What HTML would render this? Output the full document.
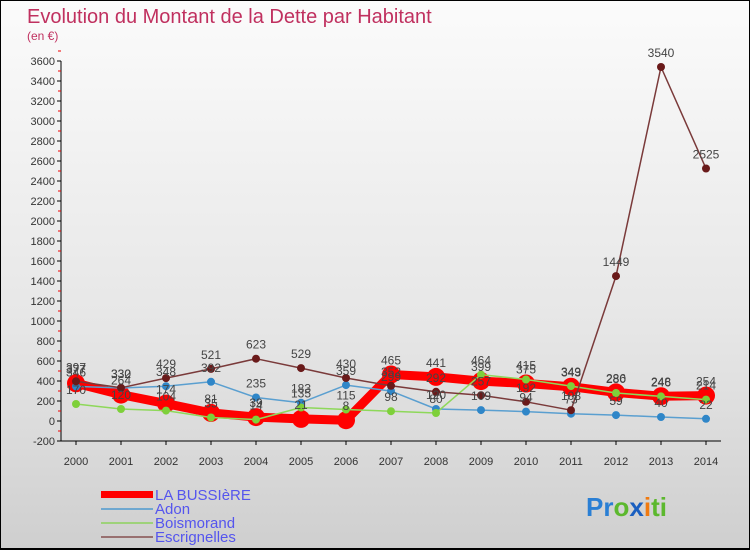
<!DOCTYPE html>
<html><head><meta charset="utf-8"><style>
body{margin:0}
#wrap{width:748px;height:547px;border:1px solid #000;border-bottom-width:2px;background:linear-gradient(#fbfbfb,#e6e6e6 60%,#cfcfcf);position:relative;overflow:hidden;font-family:"Liberation Sans",sans-serif}
</style></head><body>
<div id="wrap">
<svg id="svg" width="748" height="547" xmlns="http://www.w3.org/2000/svg">
<text x="26" y="22" font-size="20" fill="#c0305f">Evolution du Montant de la Dette par Habitant</text>
<text x="26" y="39" font-size="12" fill="#c0305f">(en €)</text>
<g id="axes"></g><g id="series"></g><g id="labels"></g>
<g>
<rect x="100" y="490" width="52" height="7" fill="#f00"/>
<line x1="100" y1="508" x2="152" y2="508" stroke="#6fa8d0" stroke-width="2"/>
<line x1="100" y1="522" x2="152" y2="522" stroke="#9ed27a" stroke-width="2"/>
<line x1="100" y1="536" x2="152" y2="536" stroke="#987070" stroke-width="2"/>
<text x="154" y="499" font-size="15" fill="#5555ee">LA BUSSIèRE</text>
<text x="154" y="513" font-size="15" fill="#5555ee">Adon</text>
<text x="154" y="527" font-size="15" fill="#5555ee">Boismorand</text>
<text x="154" y="541" font-size="15" fill="#5555ee">Escrignelles</text>
</g>
<g font-size="26" font-weight="bold">
<text x="585" y="515"><tspan fill="#2a7fd4">Pr</tspan><tspan fill="#5cb82e">o</tspan><tspan fill="#1a5fc0">x</tspan><tspan fill="#f07a10">i</tspan><tspan fill="#5cb82e">ti</tspan></text>
</g>
</svg>
</div>
<script>
const years=[2000,2001,2002,2003,2004,2005,2006,2007,2008,2009,2010,2011,2012,2013,2014];
const yTicks=[-200,0,200,400,600,800,1000,1200,1400,1600,1800,2000,2200,2400,2600,2800,3000,3200,3400,3600];
const bussiere=[377,264,174,81,39,21,8,465,441,399,375,343,286,248,254];
const adon=[346,330,348,392,235,183,359,299,120,109,94,73,59,40,22];
const boismorand=[170,120,104,35,14,135,115,98,80,464,415,349,280,246,214];
const escrignelles=[397,332,429,521,623,529,430,352,292,257,192,108,1449,3540,2525];
const NS="http://www.w3.org/2000/svg";
const X=i=>75+i*45;
const Y=v=>420-v*0.1;
function mk(t,a,p){const e=document.createElementNS(NS,t);for(const k in a)e.setAttribute(k,a[k]);p.appendChild(e);return e;}
const axes=document.getElementById('axes'),ser=document.getElementById('series'),lab=document.getElementById('labels');
let ax=mk('line',{x1:60,y1:60,x2:60,y2:440,stroke:'#000'},axes);

let bx=mk('line',{x1:60,y1:440,x2:720,y2:440,stroke:'#000'},axes);

yTicks.forEach(v=>{
 mk('line',{x1:56,y1:Y(v),x2:60,y2:Y(v),stroke:'#000'},axes);
 mk('line',{x1:57,y1:Y(v+100),x2:60,y2:Y(v+100),stroke:'#e00'},axes);
 const t=mk('text',{x:54,y:Y(v)+4,'font-size':11,fill:'#333','text-anchor':'end'},axes);
 t.textContent=v;
 
 
});
years.forEach((yr,i)=>{
 mk('line',{x1:X(i),y1:440,x2:X(i),y2:444,stroke:'#000'},axes);
 const t=mk('text',{x:X(i),y:464,'font-size':11,fill:'#333','text-anchor':'middle'},axes);
 t.textContent=yr;
 
 
});
function draw(data,name,color,w,r,fill){
 const pts=data.map((v,i)=>X(i)+','+Y(v)).join(' ');
 const pl=mk('polyline',{points:pts,fill:'none',stroke:color,'stroke-width':w,'stroke-linejoin':'round'},ser);
 
 
 data.forEach((v,i)=>{
  const c=mk('circle',{cx:X(i),cy:Y(v),r:r,fill:fill},ser);
  
  
  const t=mk('text',{x:X(i),y:Y(v)-10,'font-size':12,fill:'#444','text-anchor':'middle'},lab);
  t.textContent=v;
  
  
 });
}
draw(bussiere,'la-bussiere','#f00',9,9,'#f00');
draw(adon,'adon','#5a9fd0',1.5,4,'#2f86c8');
draw(boismorand,'boismorand','#8ed85a',1.5,4,'#7ed03a');
draw(escrignelles,'escrignelles','#7a3a3a',1.5,4,'#6a1a1a');
</script>
</body></html>
